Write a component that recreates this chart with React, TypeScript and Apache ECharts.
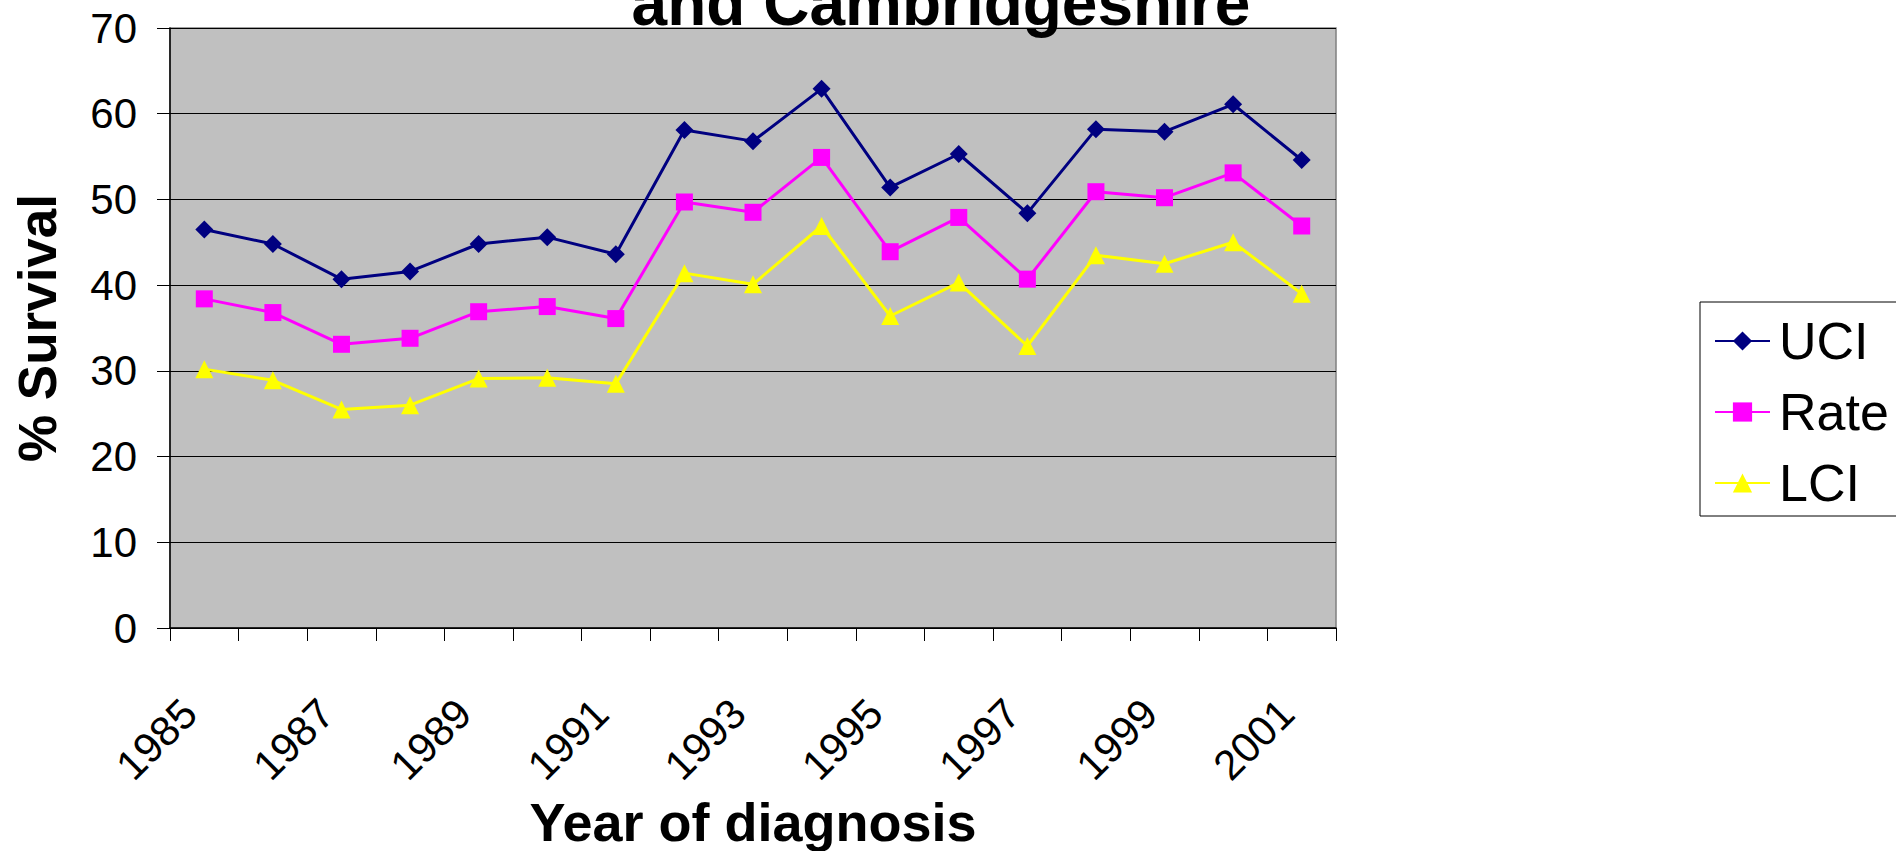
import React, { useEffect, useRef } from "react";
import * as echarts from "echarts";

const years = ["1985","1986","1987","1988","1989","1990","1991","1992","1993","1994","1995","1996","1997","1998","1999","2000","2001"];
const uci = [46.5, 44.8, 40.7, 41.6, 44.8, 45.6, 43.6, 58.1, 56.8, 62.9, 51.4, 55.3, 48.4, 58.2, 57.9, 61.1, 54.6];
const rate = [38.4, 36.8, 33.1, 33.8, 36.9, 37.5, 36.1, 49.7, 48.5, 54.9, 43.9, 47.9, 40.7, 50.9, 50.2, 53.1, 46.9];
const lci = [30.2, 28.9, 25.5, 26.0, 29.1, 29.2, 28.5, 41.4, 40.1, 46.9, 36.4, 40.3, 32.9, 43.5, 42.5, 45.0, 39.0];
const titleText = "and Cambridgeshire";
const xName = "Year of diagnosis";
const yName = "% Survival";

const FONT = "'Liberation Sans', Arial, sans-serif";

export default function App() {
  const ref = useRef<HTMLDivElement>(null);
  useEffect(() => {
    if (!ref.current) return;
    const chart = echarts.init(ref.current, null, { renderer: "svg" });
    const mk = (name: string, data: number[], color: string, symbol: string, size: number) => ({
      name,
      type: "line",
      data,
      symbol,
      symbolSize: size,
      showSymbol: true,
      lineStyle: { color, width: 3 },
      itemStyle: { color },
      z: 3,
    });
    chart.setOption({
      animation: false,
      backgroundColor: "#ffffff",
      textStyle: { fontFamily: FONT },
      grid: {
        left: 170,
        top: 28,
        width: 1166,
        height: 600,
        show: true,
        backgroundColor: "#C0C0C0",
        borderColor: "#808080",
        borderWidth: 1.5,
        containLabel: false,
        outerBoundsMode: "none",
      },
      graphic: [
        {
          type: "text",
          x: 941,
          y: 3,
          z: 5,
          style: {
            text: titleText,
            font: `bold 64px ${FONT}`,
            fill: "#000",
            align: "center",
            verticalAlign: "middle",
          },
        },
        {
          type: "rect",
          z: 0,
          shape: { x: 1700, y: 302, width: 260, height: 214 },
          style: { fill: "#ffffff", stroke: "#000000", lineWidth: 1 },
        },
      ],
      legend: {
        orient: "vertical",
        left: 1714,
        top: 311,
        padding: 0,
        z: 10,
        itemWidth: 55,
        itemHeight: 24,
        itemGap: 11,
        selectedMode: false,
        textStyle: {
          fontFamily: FONT,
          fontSize: 52,
          lineHeight: 60,
          color: "#000",
          padding: [0, 0, 0, 4],
        },
        data: ["UCI", "Rate", "LCI"],
      },
      xAxis: {
        type: "category",
        data: years,
        boundaryGap: true,
        name: xName,
        nameLocation: "middle",
        nameGap: 167,
        nameTextStyle: { fontFamily: FONT, fontSize: 54, fontWeight: "bold", color: "#000" },
        axisLine: { show: true, lineStyle: { color: "#000", width: 1.5 } },
        axisTick: { show: true, interval: 0, length: 13, lineStyle: { color: "#000" } },
        axisLabel: {
          interval: 1,
          rotate: 45,
          margin: 93,
          verticalAlign: "bottom",
          fontFamily: FONT,
          fontSize: 42,
          color: "#000",
        },
        splitLine: { show: false },
      },
      yAxis: {
        type: "value",
        min: 0,
        max: 70,
        interval: 10,
        name: yName,
        nameLocation: "middle",
        nameGap: 106,
        nameRotate: 90,
        nameTextStyle: { fontFamily: FONT, fontSize: 53, fontWeight: "bold", color: "#000" },
        axisLine: { show: true, lineStyle: { color: "#000", width: 1.5 } },
        axisTick: { show: true, length: 13, lineStyle: { color: "#000" } },
        axisLabel: { margin: 33, fontFamily: FONT, fontSize: 42, color: "#000" },
        splitLine: { show: true, lineStyle: { color: "#000", width: 1 } },
      },
      series: [
        mk("UCI", uci, "#000080", "diamond", 18),
        mk("Rate", rate, "#FF00FF", "rect", 17),
        mk("LCI", lci, "#FFFF00", "triangle", 18),
      ],
    });
    return () => chart.dispose();
  }, []);
  return (
    <div
      ref={ref}
      style={{ position: "fixed", left: 0, top: 0, width: 1896, height: 851, background: "#fff" }}
    />
  );
}
